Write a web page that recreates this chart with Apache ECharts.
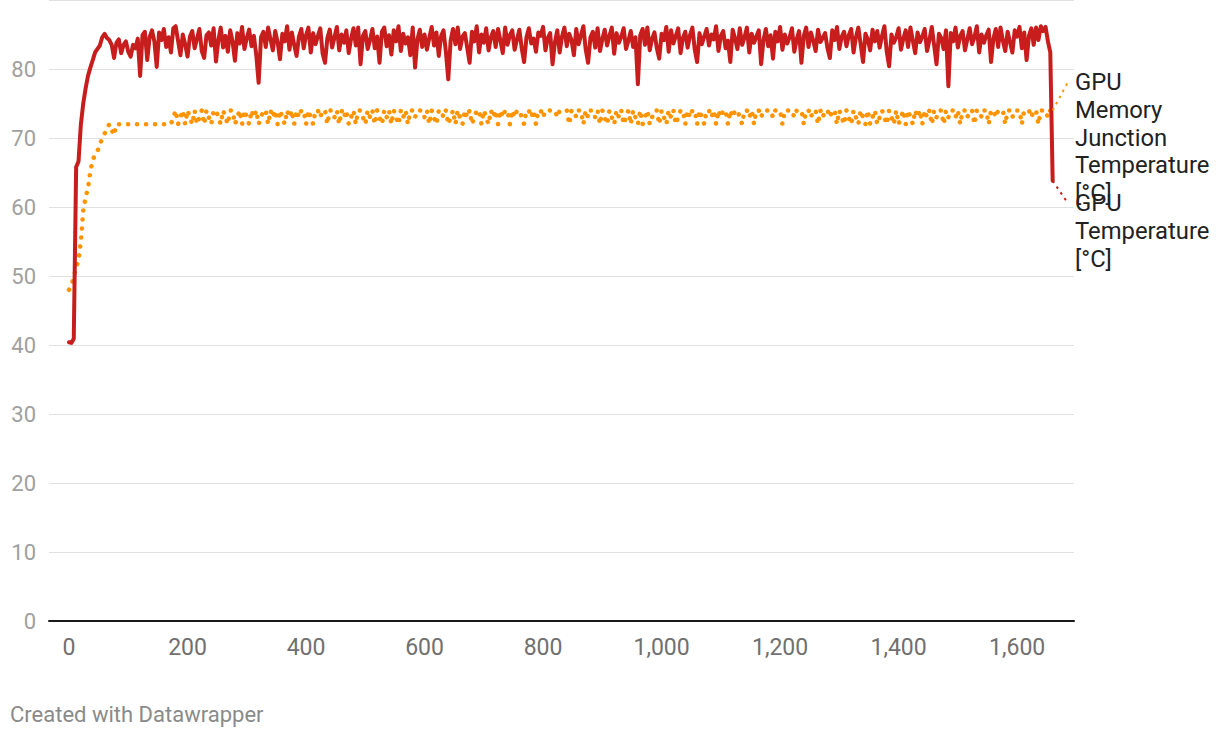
<!DOCTYPE html>
<html>
<head>
<meta charset="utf-8">
<script src="https://cdn.jsdelivr.net/npm/echarts@6/dist/echarts.min.js"></script>
<style>
html,body{margin:0;padding:0;background:#ffffff;}
#chart{width:1220px;height:738px;}
</style>
</head>
<body>
<div id="chart"></div>
<script>
// ---- data ----
const timeStep = 4; // seconds between samples
const seriesNames = ['GPU Memory Junction Temperature [°C]', 'GPU Temperature [°C]'];
const labelLines = [['GPU', 'Memory', 'Junction', 'Temperature', '[°C]'], ['GPU', 'Temperature', '[°C]']];
const xTickValues = [0, 200, 400, 600, 800, 1000, 1200, 1400, 1600];
const yTickValues = [0, 10, 20, 30, 40, 50, 60, 70, 80];
const footerText = 'Created with Datawrapper';

const gpuTemp = [
40.4, 40.3, 40.9, 65.8, 66.6, 72.0, 75.0, 77.2, 79.0, 80.2, 81.3, 82.4, 82.9, 83.4, 84.6, 85.1,
84.5, 84.2, 83.5, 81.6, 83.8, 84.3, 82.3, 83.5, 84.0, 82.5, 81.8, 83.5, 83.0, 84.4, 79.0, 84.9, 85.4, 81.3, 84.6, 85.6, 84.0, 80.3, 85.3, 84.2,
85.8, 83.2, 84.6, 82.4, 85.9, 86.2, 84.1, 82.0, 85.0, 83.6,
81.8, 84.7, 85.5, 83.0, 84.4, 85.8, 82.6, 81.6, 84.9, 85.3,
83.4, 85.9, 81.1, 84.2, 86.0, 83.1, 84.8, 82.5, 85.6, 84.0,
81.2, 85.2, 83.7, 86.1, 82.9, 84.5, 85.7, 83.3, 84.8, 82.0,
78.0, 84.6, 85.4, 83.2, 86.0, 84.3, 82.7, 85.5, 83.9, 81.4,
85.1, 84.0, 86.2, 82.8, 85.3, 83.5, 81.9, 84.7, 85.8, 83.0,
84.9, 86.0, 82.4, 85.2, 83.6, 84.8, 85.9, 82.2, 80.9, 84.5,
85.7, 83.1, 84.6, 86.1, 82.7, 85.0, 83.8, 85.6, 82.3, 84.4,
85.9, 83.4, 86.0, 80.7, 84.8, 85.5, 82.9, 84.2, 85.8, 83.0,
84.7, 80.9, 85.4, 86.0, 83.3, 84.9, 82.1, 85.6, 84.0, 86.2,
82.6, 85.1, 83.7, 84.6, 82.0, 86.0, 80.2, 84.3, 85.7, 83.2,
85.0, 82.8, 84.5, 86.1, 83.4, 85.3, 81.9, 84.8, 85.6, 82.5,
78.5, 84.1, 85.8, 83.6, 86.0, 82.9, 84.7, 85.2, 83.1, 80.9,
85.4, 84.0, 86.2, 82.4, 85.0, 83.8, 85.9, 82.7, 84.6, 85.5,
83.2, 85.8, 84.1, 82.3, 86.0, 83.5, 84.9, 85.6, 82.8, 84.3,
85.7, 83.0, 81.0, 84.6, 85.9, 83.7, 84.4, 82.5, 85.3, 84.8,
86.1, 82.7, 84.5, 85.2, 80.7, 83.9, 85.6, 82.4, 84.7, 86.0,
83.3, 85.1, 84.2, 82.0, 85.8, 83.6, 84.9, 86.2, 82.8, 80.9,
84.6, 85.4, 83.1, 85.9, 82.6, 84.3, 85.7, 83.4, 84.8, 86.0,
82.2, 85.2, 83.8, 84.7, 85.9, 82.9, 84.1, 85.5, 83.2, 84.6,
77.8, 84.9, 85.8, 83.5, 86.0, 82.7, 84.4, 85.3, 83.0, 81.5,
85.1, 84.2, 86.1, 82.5, 85.6, 83.7, 84.8, 85.9, 82.3, 84.5,
85.4, 83.1, 84.9, 86.0, 82.8, 81.0, 85.2, 83.6, 84.7, 85.8,
83.4, 85.0, 84.3, 86.2, 82.6, 84.8, 85.5, 83.0, 84.1, 81.0,
85.7, 84.4, 82.9, 85.9, 83.5, 84.6, 86.0, 82.4, 85.1, 83.8,
84.7, 85.6, 80.7, 84.2, 85.8, 83.3, 84.9, 81.5, 85.4, 84.0,
86.1, 82.8, 85.0, 83.7, 84.6, 85.9, 82.5, 84.3, 85.5, 80.9,
84.8, 86.0, 83.2, 85.3, 84.1, 82.6, 85.7, 83.9, 84.5, 85.2,
83.0, 81.6, 85.6, 84.2, 86.1, 82.9, 84.7, 85.4, 83.3, 84.9,
85.8, 82.4, 84.6, 86.0, 83.6, 81.0, 85.1, 84.3, 82.7, 85.7,
84.0, 85.5, 83.1, 84.8, 86.2, 82.5, 80.4, 85.0, 83.8, 84.6,
85.9, 82.8, 84.4, 85.6, 83.2, 86.0, 84.1, 82.3, 85.3, 83.9,
84.7, 85.8, 82.6, 84.2, 86.1, 83.4, 80.7, 85.1, 84.5, 82.9,
85.6, 77.5, 85.2, 84.0, 86.0, 83.1, 84.8, 85.5, 82.7, 84.3,
85.9, 83.6, 84.6, 86.2, 82.4, 85.0, 83.8, 84.9, 85.7, 81.0,
84.4, 85.8, 83.2, 86.0, 84.1, 82.6, 85.4, 83.9, 82.4, 85.6,
84.7, 86.1, 83.0, 85.3, 81.3, 84.8, 85.9, 83.5, 86.0, 84.2,
86.2, 85.5, 86.1, 84.0, 82.4, 63.8
];

const memJunctionTemp = [
48.0, 48.7, 49.8, 51.2, 52.3, 55.0, 59.5, 61.4, 62.7, 65.2, 66.8, 67.6, 68.1, 69.1, 69.9, 70.6,
71.4, 72, 71.2, 70.4, 72, 72, 72, 72, 72, 72,
72, 72, 72, 72, 72, 72, 72, 72, 72, 72,
72, 72, 72, 72, 72, 72, 72, 72,
73, 74, 72, 73, 74, 72, 74, 73, 72, 74,
72, 73, 74, 72, 74, 73, 72, 74, 74, 73,
72, 74, 73, 72, 74, 74, 72, 73, 74, 72,
74, 73, 72, 74, 73, 74, 72, 73, 74, 74,
72, 74, 73, 74, 72, 74, 73, 72, 74, 73,
74, 72, 74, 73, 74, 74, 72, 74, 73, 72,
74, 74, 73, 74, 74, 72, 74, 74, 73, 74,
72, 74, 73, 74, 72, 73, 74, 72, 74, 74,
73, 72, 74, 73, 74, 72, 74, 73, 72, 74,
73, 74, 72, 74, 73, 72, 74, 73, 74, 72,
74, 74, 73, 74, 74, 74, 73, 74, 72, 74,
73, 72, 74, 74, 73, 74, 72, 73, 74, 72,
74, 73, 72, 74, 73, 74, 72, 73, 74, 74,
72, 74, 73, 72, 74, 73, 74, 72, 74, 73,
74, 74, 72, 74, 73, 74, 74, 73, 72, 74,
74, 73, 74, 72, 74, 74, 73, 74, 74, 74,
74, 74, 73, 74, 74, 74, 74, 72, 74, 74,
73, 74, 74, 72, 74, 73, 74, 74, 73, 74,
72, 74, 73, 72, 74, 73, 72, 74, 73, 74,
72, 73, 74, 72, 74, 73, 72, 74, 72, 73,
74, 72, 73, 74, 74, 72, 74, 73, 72, 74,
73, 74, 72, 73, 74, 74, 72, 74, 73, 74,
74, 72, 74, 73, 72, 74, 74, 73, 74, 72,
74, 73, 74, 74, 72, 74, 73, 74, 74, 73,
72, 74, 74, 73, 74, 72, 74, 74, 73, 74,
74, 74, 74, 73, 74, 74, 74, 72, 74, 74,
74, 74, 73, 74, 74, 74, 72, 74, 74, 73,
74, 74, 72, 74, 73, 74, 74, 73, 74, 74,
72, 74, 73, 72, 74, 73, 72, 74, 73, 72,
74, 73, 72, 74, 72, 73, 74, 72, 73, 74,
73, 72, 74, 73, 72, 74, 72, 73, 74, 72,
74, 73, 72, 74, 73, 74, 72, 74, 73, 74,
72, 74, 73, 74, 74, 72, 74, 73, 74, 74,
73, 74, 72, 74, 74, 73, 74, 74, 72, 74,
74, 73, 74, 74, 72, 74, 74, 73, 74, 74,
74, 72, 74, 74, 73, 74, 74, 74, 72, 74,
74, 74, 73, 74, 74, 72, 74, 74, 74, 73,
74, 74
];

// ---- chart ----
const RED = '#c71e1d';
const ORANGE = '#ff9400';
const FONT = 'Roboto, "Noto Sans", sans-serif';

const toPairs = arr => arr.map((v, i) => [i * timeStep, v]);

const chart = echarts.init(document.getElementById('chart'), null, { renderer: 'svg' });

chart.setOption({
  animation: false,
  backgroundColor: '#ffffff',
  grid: { left: 49, right: 146, top: -1.1, bottom: 117, containLabel: false },
  xAxis: {
    type: 'value',
    min: -33.8,
    max: 1696,
    splitLine: { show: false },
    axisTick: { show: false },
    axisLine: { show: true, onZero: true, lineStyle: { color: '#1a1a1a', width: 2 } },
    axisLabel: {
      customValues: xTickValues,
      formatter: v => Number(v).toLocaleString('en-US'),
      color: '#707070',
      fontSize: 23,
      fontFamily: FONT,
      margin: 15
    }
  },
  yAxis: {
    type: 'value',
    min: 0,
    max: 90,
    interval: 10,
    axisLine: { show: false },
    axisTick: { show: false },
    splitLine: { show: true, lineStyle: { color: '#e0e0e0', width: 1 } },
    axisLabel: {
      color: '#a0a0a0',
      fontSize: 22,
      fontFamily: FONT,
      margin: 13,
      showMaxLabel: false,
      formatter: v => (yTickValues.indexOf(v) >= 0 ? String(v) : '')
    }
  },
  series: [
    {
      name: seriesNames[0],
      type: 'line',
      data: toPairs(memJunctionTemp),
      showSymbol: false,
      symbol: 'none',
      lineStyle: { color: ORANGE, width: 4.5, type: [0.1, 8.9], cap: 'round', join: 'round' },
      z: 2
    },
    {
      name: seriesNames[1],
      type: 'line',
      data: toPairs(gpuTemp),
      showSymbol: false,
      symbol: 'none',
      lineStyle: { color: RED, width: 4, cap: 'round', join: 'round' },
      z: 3
    }
  ]
});

// end labels with connectors (placed to the right of the plot)
const lastOrange = [(memJunctionTemp.length - 1) * timeStep, memJunctionTemp[memJunctionTemp.length - 1]];
const lastRed = [(gpuTemp.length - 1) * timeStep, gpuTemp[gpuTemp.length - 1]];
const pO = chart.convertToPixel({ xAxisIndex: 0, yAxisIndex: 0 }, lastOrange);
const pR = chart.convertToPixel({ xAxisIndex: 0, yAxisIndex: 0 }, lastRed);

const labelX = 1075;
const lineH = 27.8;
const labelTopO = 68;
const labelTopR = 189.5;
const labelFont = 23.8;

chart.setOption({
  graphic: [
    { type: 'line', shape: { x1: pO[0], y1: pO[1], x2: 1068, y2: labelTopO + lineH / 2 },
      style: { stroke: ORANGE, lineWidth: 2, lineDash: [2.5, 4.5] }, z: 10 },
    { type: 'line', shape: { x1: pR[0], y1: pR[1], x2: 1068, y2: labelTopR + lineH / 2 },
      style: { stroke: RED, lineWidth: 2, lineDash: [2.5, 4.5] }, z: 10 },
    { type: 'text', x: labelX, y: labelTopO, z: 11,
      style: { text: labelLines[0].join('\n'), fill: '#222222', fontSize: labelFont, fontFamily: FONT,
               lineHeight: lineH, align: 'left', verticalAlign: 'top' } },
    { type: 'text', x: labelX, y: labelTopR, z: 11,
      style: { text: labelLines[1].join('\n'), fill: '#222222', fontSize: labelFont, fontFamily: FONT,
               lineHeight: lineH, align: 'left', verticalAlign: 'top' } },
    { type: 'text', x: 10, y: 714, z: 11,
      style: { text: footerText, fill: '#8a8a8a', fontSize: 22, fontFamily: FONT,
               align: 'left', verticalAlign: 'middle' } }
  ]
});
</script>
</body>
</html>
